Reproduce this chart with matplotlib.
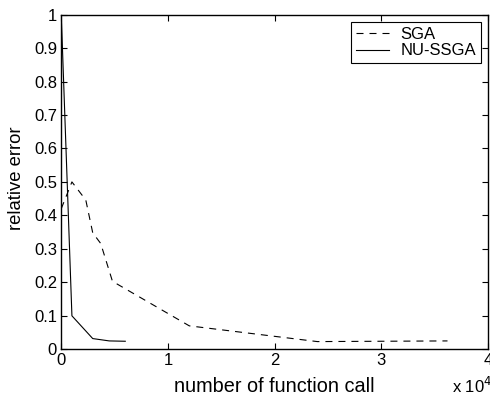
import matplotlib
matplotlib.use('Agg')
import matplotlib.pyplot as plt

sga_calls = [0, 1000, 2300, 2950, 3700, 4800, 12000, 24000, 36200]
sga_err = [0.42, 0.50, 0.446, 0.348, 0.316, 0.203, 0.07, 0.023, 0.025]

nu_calls = [0, 1000, 2950, 4500, 6000]
nu_err = [1.0, 0.10, 0.032, 0.025, 0.024]

xticks = [0, 1, 2, 3, 4]
yticks = [0, 0.1, 0.2, 0.3, 0.4, 0.5, 0.6, 0.7, 0.8, 0.9, 1]

plt.rcParams['font.family'] = ['Liberation Sans', 'DejaVu Sans']

fig = plt.figure(figsize=(4.9, 3.98), dpi=100)
ax = fig.add_axes([0.125, 0.1224, 0.871, 0.841])

ax.plot(sga_calls, sga_err, color='black', linestyle=(0, (6.3, 5.4)), linewidth=0.8, label='SGA')
ax.plot(nu_calls, nu_err, color='black', linestyle='-', linewidth=0.8, label='NU-SSGA')

ax.set_xlim(0, 40000)
ax.set_ylim(0, 1)
ax.set_xticks([t * 1e4 for t in xticks])
ax.set_xticklabels([str(t) for t in xticks])
ax.set_yticks(yticks)
ax.set_yticklabels(['0', '0.1', '0.2', '0.3', '0.4', '0.5', '0.6', '0.7', '0.8', '0.9', '1'])
ax.tick_params(direction='in', top=True, right=True, length=4, width=0.8, labelsize=12, pad=3)
for s in ax.spines.values():
    s.set_linewidth(1.0)

ax.set_xlabel('number of function call', fontsize=14.3, labelpad=6)
ax.set_ylabel('relative error', fontsize=13.3)
ax.yaxis.set_label_coords(-0.085, 0.512)
fig.text(0.922, 0.004, r'x 10$^4$', fontsize=12, ha='left', va='bottom')

leg = ax.legend(loc='upper right', fontsize=12, frameon=True, fancybox=False,
                edgecolor='black', framealpha=1, handlelength=2.0,
                borderaxespad=0.45, borderpad=0.28, labelspacing=0.1, handletextpad=0.65)
leg.get_frame().set_linewidth(0.8)

fig.savefig('out.png', dpi=100)
